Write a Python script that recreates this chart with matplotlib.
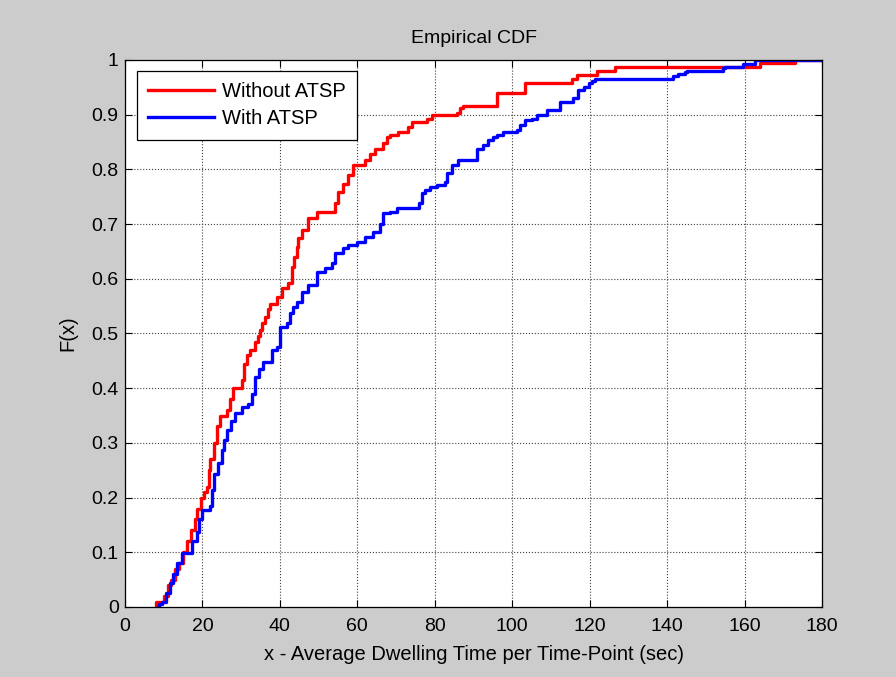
import matplotlib
matplotlib.use("Agg")
import matplotlib.pyplot as plt

plt.rcParams['font.family'] = ['Liberation Sans', 'DejaVu Sans']

# step points of the empirical CDFs (x, level after jump)
red_x = [8.0, 8.1, 10.0, 11, 12, 13, 14, 15, 16, 17, 18, 18.5, 19.5, 20.5, 21.1, 21.6, 22, 23, 23.7,
         24.5, 26.3, 27, 28, 30.1, 30.8, 31.5, 32.3, 33.6, 34.3, 34.9, 35.5, 36.2, 37, 37.5, 39.2,
         40.5, 42.2, 43, 43.7, 44.3, 44.8, 45.6, 47.3, 49.5, 54.2, 55.1, 56.4, 57.7, 59, 62, 63.3,
         64.6, 66.7, 67.6, 68.4, 70.6, 73.2, 74, 77.9, 79.2, 85.7, 86.5, 87.4, 96, 103.3, 115.4,
         116.6, 121.8, 126.5, 164, 173, 180]
red_F = [0.0, 0.01, 0.02, 0.04, 0.05, 0.07, 0.08, 0.10, 0.12, 0.14, 0.16, 0.18, 0.20, 0.21, 0.22,
         0.25, 0.27, 0.30, 0.33, 0.35, 0.36, 0.38, 0.40, 0.415, 0.445, 0.46, 0.47, 0.485, 0.495,
         0.506, 0.52, 0.53, 0.545, 0.554, 0.567, 0.583, 0.592, 0.622, 0.64, 0.659, 0.675, 0.689,
         0.711, 0.723, 0.738, 0.759, 0.774, 0.79, 0.808, 0.817, 0.829, 0.838, 0.848, 0.86, 0.863,
         0.869, 0.878, 0.887, 0.893, 0.899, 0.903, 0.912, 0.916, 0.94, 0.958, 0.965, 0.973, 0.98,
         0.988, 0.994, 1.0, 1.0]

blue_x = [8.6, 8.7, 9.5, 10.5, 11.6, 12.5, 13.5, 14.6, 17.3, 18.5, 19.2, 19.8, 21.9, 22.4, 23.1,
          24.1, 25, 25.6, 26.3, 27.5, 28.4, 30.1, 31.8, 32.7, 33.6, 34.5, 35.7, 37.9, 39.2, 40,
          41.8, 42.6, 43.5, 44.3, 45.6, 47.3, 49.5, 51.7, 53.4, 54.2, 56.4, 57.7, 59.8, 62, 64.1,
          65.9, 66.7, 68.4, 70.2, 75.8, 76.6, 77.5, 78.8, 80.5, 82.6, 83.1, 84.4, 86.1, 90.8, 92.5,
          93.8, 95.1, 96, 97.7, 101.2, 102, 103.3, 105, 106.3, 108.9, 112.4, 115.8, 117.1, 118.4,
          119.7, 120.5, 121.4, 141.6, 142.9, 144.6, 145.1, 154.5, 154.9, 159.7, 162.7, 180]
blue_F = [0.0, 0.005, 0.01, 0.025, 0.043, 0.06, 0.08, 0.098, 0.12, 0.138, 0.16, 0.177, 0.185,
          0.214, 0.244, 0.263, 0.287, 0.305, 0.324, 0.34, 0.354, 0.366, 0.372, 0.39, 0.421, 0.435,
          0.448, 0.47, 0.476, 0.512, 0.519, 0.537, 0.548, 0.558, 0.576, 0.589, 0.613, 0.619, 0.628,
          0.647, 0.656, 0.662, 0.668, 0.677, 0.686, 0.701, 0.72, 0.723, 0.729, 0.738, 0.756, 0.762,
          0.768, 0.771, 0.777, 0.793, 0.808, 0.817, 0.838, 0.845, 0.854, 0.86, 0.863, 0.869, 0.872,
          0.881, 0.89, 0.893, 0.899, 0.908, 0.924, 0.93, 0.945, 0.951, 0.958, 0.962, 0.965, 0.971,
          0.974, 0.978, 0.98, 0.985, 0.988, 0.993, 1.0, 1.0]

x_ticks = list(range(0, 181, 20))
y_ticks = [i / 10 for i in range(11)]
y_labels = ['0'] + ['%.1f' % v for v in y_ticks[1:-1]] + ['1']

fig = plt.figure(figsize=(8.96, 6.77), dpi=100, facecolor='#cccccc')
ax = fig.add_axes([0.1395, 0.1034, 0.778, 0.808])
ax.set_facecolor('white')

ax.step(red_x, red_F, where='post', color='#ff0000', lw=2.4, label='Without ATSP')
ax.step(blue_x, blue_F, where='post', color='#0000ff', lw=2.4, label='With ATSP')

ax.set_xlim(0, 180)
ax.set_ylim(0, 1)
ax.set_xticks(x_ticks)
ax.set_yticks(y_ticks)
ax.set_yticklabels(y_labels)
ax.tick_params(direction='in', top=True, right=True, labelsize=14, length=5, width=0.8)
ax.tick_params(axis='x', pad=8)
ax.tick_params(axis='y', pad=4.5)
ax.grid(True, linestyle=':', color='0.25', lw=0.8)
for s in ax.spines.values():
    s.set_linewidth(0.9)

ax.set_title('Empirical CDF', fontsize=14, pad=12)
ax.set_xlabel('x - Average Dwelling Time per Time-Point (sec)', fontsize=14.5, labelpad=7)
ax.set_ylabel('F(x)', fontsize=14.5, labelpad=10)

leg = ax.legend(loc='upper left', bbox_to_anchor=(0.017, 0.98), borderaxespad=0, fontsize=14.5,
                handlelength=3.3, handletextpad=0.4, fancybox=False, framealpha=1,
                edgecolor='black', borderpad=0.55, labelspacing=0.42)
leg.get_frame().set_linewidth(0.9)

fig.savefig('out.png', dpi=100, facecolor=fig.get_facecolor())
